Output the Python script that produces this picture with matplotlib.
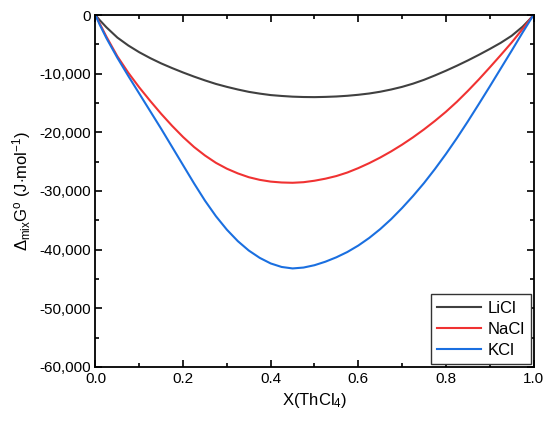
import matplotlib.pyplot as plt
from matplotlib.ticker import MultipleLocator, FuncFormatter

plt.rcParams['font.family'] = ['Liberation Sans', 'DejaVu Sans']
plt.rcParams['mathtext.fontset'] = 'custom'
plt.rcParams['mathtext.rm'] = 'Liberation Sans'
plt.rcParams['mathtext.it'] = 'Liberation Sans:italic'

x = [0.0, 0.01, 0.025, 0.05, 0.075, 0.1, 0.125, 0.15, 0.175, 0.2, 0.225, 0.25,
     0.275, 0.3, 0.325, 0.35, 0.375, 0.4, 0.425, 0.45, 0.475, 0.5, 0.525, 0.55,
     0.575, 0.6, 0.625, 0.65, 0.675, 0.7, 0.725, 0.75, 0.775, 0.8, 0.825, 0.85,
     0.875, 0.9, 0.925, 0.95, 0.975, 0.99, 1.0]

licl = [0, -900, -2100, -3850, -5200, -6350, -7350, -8250, -9050, -9800, -10500,
        -11150, -11750, -12250, -12700, -13100, -13400, -13650, -13800, -13920,
        -13980, -14000, -13960, -13890, -13770, -13600, -13380, -13080, -12700,
        -12250, -11700, -11050, -10300, -9500, -8650, -7750, -6800, -5800, -4750,
        -3550, -2000, -850, 0]
nacl = [0, -1500, -3700, -7050, -9850, -12350, -14650, -16850, -18900, -20800,
        -22500, -23950, -25200, -26200, -27000, -27650, -28100, -28400, -28550,
        -28600, -28500, -28250, -27900, -27450, -26850, -26100, -25250, -24300,
        -23250, -22100, -20850, -19500, -18050, -16500, -14800, -12950, -11000,
        -8950, -6850, -4700, -2400, -950, 0]
kcl = [0, -1700, -3950, -7300, -10400, -13400, -16400, -19400, -22500, -25600,
       -28700, -31650, -34300, -36600, -38550, -40150, -41400, -42350, -42950,
       -43200, -43050, -42650, -42050, -41300, -40400, -39300, -38000, -36500,
       -34800, -32900, -30850, -28650, -26250, -23700, -21000, -18150, -15200,
       -12200, -9150, -6100, -3000, -1200, 0]

names = ['LiCl', 'NaCl', 'KCl']
colors = ['#404040', '#f03232', '#1a6fe0']

fig = plt.figure(figsize=(5.5, 4.25), dpi=100)
ax = fig.add_axes([0.1736, 0.1365, 0.7964, 0.8282])

for ys, name, c in zip([licl, nacl, kcl], names, colors):
    ax.plot(x, ys, color=c, lw=1.5, label=name)

ax.set_xlim(0, 1)
ax.set_ylim(-60000, 0)
ax.xaxis.set_major_locator(MultipleLocator(0.2))
ax.xaxis.set_minor_locator(MultipleLocator(0.1))
ax.yaxis.set_major_locator(MultipleLocator(10000))
ax.yaxis.set_minor_locator(MultipleLocator(5000))
ax.yaxis.set_major_formatter(FuncFormatter(lambda v, p: '{:,.0f}'.format(v)))
ax.xaxis.set_major_formatter(FuncFormatter(lambda v, p: '{:.1f}'.format(v)))

ax.tick_params(which='both', direction='in', top=True, right=True, width=1.2,
               labelsize=11)
ax.tick_params(which='major', length=5)
ax.tick_params(which='minor', length=3)
for s in ax.spines.values():
    s.set_linewidth(1.3)

ax.set_xlabel(r'X(ThCl$_4$)', fontsize=12, labelpad=4)
ax.set_ylabel(r'$\Delta_{\mathrm{mix}}$G$^{\mathrm{o}}$ (J$\cdot$mol$^{-1}$)',
              fontsize=12, labelpad=4)

leg = ax.legend(loc='lower right', fontsize=12, fancybox=False, edgecolor='#333333',
                framealpha=1, handlelength=2.6, borderaxespad=0.15,
                labelspacing=0.35, handletextpad=0.4, borderpad=0.4)
leg.get_frame().set_linewidth(1.0)

fig.savefig('out.png', dpi=100)
